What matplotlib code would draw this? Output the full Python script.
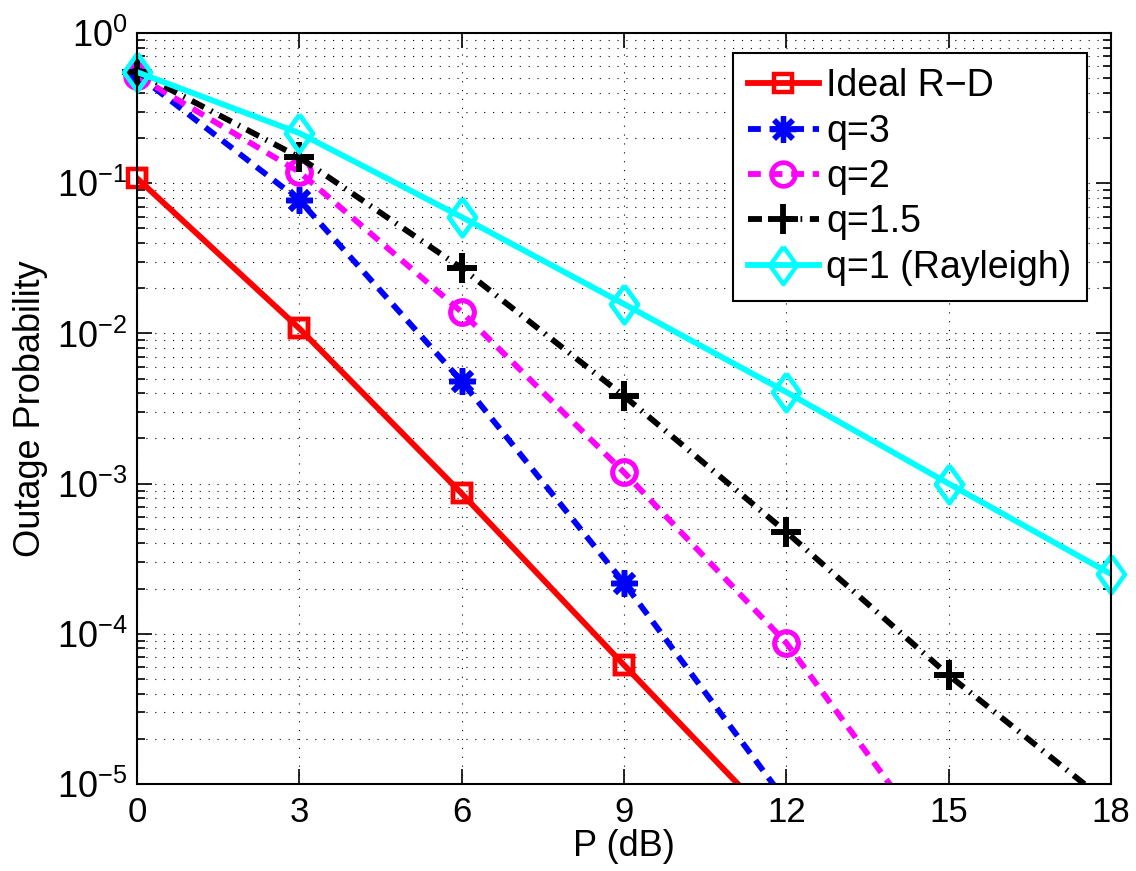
import matplotlib
matplotlib.use("Agg")
import matplotlib.pyplot as plt
import numpy as np
from matplotlib.ticker import LogLocator, NullFormatter, FixedLocator

plt.rcParams['font.family'] = ['Liberation Sans', 'DejaVu Sans']
plt.rcParams['mathtext.fontset'] = 'custom'
plt.rcParams['mathtext.rm'] = 'Liberation Sans'
plt.rcParams['mathtext.it'] = 'Liberation Sans:italic'

# ---- data ----
P_dB = [0, 3, 6, 9, 12, 15, 18]
ideal_rd = [0.108, 0.0108, 8.6e-4, 6.2e-5, 4.6e-6, 3.0e-7, 2.0e-8]
q3 = [0.53, 0.0773, 4.8e-3, 2.18e-4, 7.6e-6, 2.5e-7, 8.0e-9]
q2 = [0.52, 0.119, 0.0139, 1.19e-3, 8.7e-5, 2.9e-6, 1.0e-7]
q15 = [0.55, 0.149, 0.0272, 3.83e-3, 4.76e-4, 5.3e-5, 7.2e-6]
q1 = [0.55, 0.216, 0.0596, 0.0157, 4.07e-3, 1.0e-3, 2.5e-4]
labels = ['Ideal R\u2212D', 'q=3', 'q=2', 'q=1.5', 'q=1 (Rayleigh)']
x_ticks = [0, 3, 6, 9, 12, 15, 18]

fig = plt.figure(figsize=(11.36, 8.71), dpi=100)
ax = fig.add_axes([0.1206, 0.0999, 0.978 - 0.1206, 0.962 - 0.0999])

lw = 4.2
diamond = [(0, 1), (0.72, 0), (0, -1), (-0.72, 0), (0, 1)]
YMIN, YMAX = 1e-5, 1

series = [
    (ideal_rd, dict(color='red', lw=lw, ls='-', marker='s', ms=13,
                    mfc='none', mec='red', mew=3.2)),
    (q3, dict(color='blue', lw=lw, dashes=(2.2, 1.5), marker=(8, 2, 0), ms=19,
              mfc='blue', mec='blue', mew=3.8)),
    (q2, dict(color='magenta', lw=lw, dashes=(2.2, 1.5), marker='o', ms=17,
              mfc='none', mec='magenta', mew=3.4)),
    (q15, dict(color='black', lw=lw, dashes=(2.4, 1.3, 0.3, 1.3), marker='+', ms=22,
               mec='black', mew=4.2)),
    (q1, dict(color='cyan', lw=lw, ls='-', marker=diamond, ms=27,
              mfc='none', mec='cyan', mew=3.2)),
]

for i, ((vals, kw), lab) in enumerate(zip(series, labels)):
    ax.plot(P_dB, vals, label=lab, zorder=2 + 0.01 * i, **kw)
    # unclipped markers for points inside the visible range (MATLAB style)
    xs = [x for x, v in zip(P_dB, vals) if YMIN <= v <= YMAX]
    vs = [v for v in vals if YMIN <= v <= YMAX]
    mk = {k: kw[k] for k in ('marker', 'ms', 'mfc', 'mec', 'mew') if k in kw}
    ax.plot(xs, vs, ls='none', clip_on=False, zorder=2.005 + 0.01 * i, **mk)

ax.set_yscale('log')
ax.set_xlim(0, 18)
ax.set_ylim(YMIN, YMAX)
ax.xaxis.set_major_locator(FixedLocator(x_ticks))
ax.yaxis.set_major_locator(LogLocator(base=10, numticks=10))
ax.yaxis.set_minor_locator(LogLocator(base=10, subs=np.arange(2, 10), numticks=20))
ax.yaxis.set_minor_formatter(NullFormatter())

ax.grid(True, which='major', axis='both', color='black', lw=0.8, ls=(0, (1, 7)))
ax.grid(True, which='minor', axis='y', color='black', lw=0.8, ls=(0, (1, 7)))

ax.tick_params(which='both', direction='in', top=True, right=True, labelsize=25, width=1.2)
ax.tick_params(axis='y', which='major', labelsize=26)
ax.tick_params(axis='x', which='major', length=11, pad=9)
ax.tick_params(axis='y', which='major', length=11, pad=7)
ax.tick_params(which='minor', length=6)
for s in ax.spines.values():
    s.set_linewidth(1.5)

ax.set_xlabel('P (dB)', fontsize=26, labelpad=0)
ax.set_ylabel('Outage Probability', fontsize=26, labelpad=6)

leg = ax.legend(loc='upper right', bbox_to_anchor=(0.975, 0.973), borderaxespad=0,
                fontsize=27, numpoints=1, handlelength=1.9, handletextpad=0.2,
                labelspacing=0.25, borderpad=0.4, fancybox=False, framealpha=1,
                edgecolor='black')
leg.get_frame().set_linewidth(1.5)

fig.savefig('out.png', dpi=100)
